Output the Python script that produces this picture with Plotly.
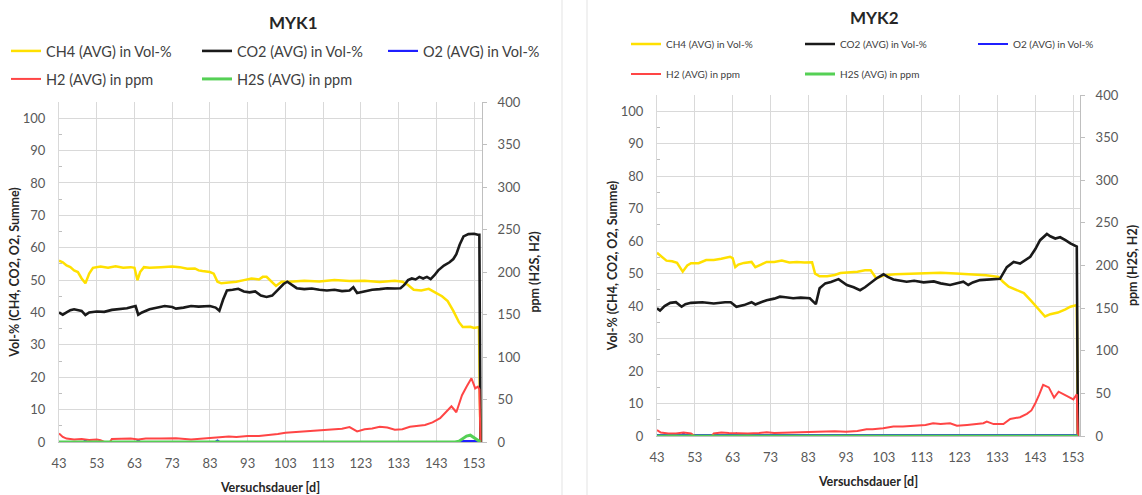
import plotly.graph_objects as go

# ---------------- data ----------------
x_ticks = [43, 53, 63, 73, 83, 93, 103, 113, 123, 133, 143, 153]

# MYK1
m1_ch4_d = [43, 44, 45, 46, 47, 48, 49, 50, 51, 52, 54, 56, 58, 60, 62, 63, 63.8, 64.5, 65.5, 67, 70, 73, 75, 77, 79, 80, 81, 83, 84, 85, 86, 88, 90, 92, 94, 96, 97, 98, 99.5, 100.5, 102, 104, 108, 112, 116, 120, 124, 128, 132, 134, 135.5, 137, 139, 141, 143, 144.5, 146, 147.5, 149, 150, 152, 153, 154.3, 154.7]
m1_ch4 = [56, 55.5, 54.5, 54, 53, 52.5, 50.5, 49, 52, 53.8, 54.2, 53.8, 54.3, 53.8, 54, 53.8, 50, 52.5, 54, 53.8, 54, 54.2, 54, 53.5, 53.6, 53, 52.8, 52.5, 52, 49.5, 49, 49.2, 49.5, 50, 50.5, 50.2, 51, 51, 49.5, 48.2, 49.5, 49.5, 49.8, 49.6, 50, 49.7, 49.8, 49.4, 49.8, 49.5, 48.5, 47, 46.8, 47.3, 46, 45, 43.5, 40.5, 37, 35.5, 35.6, 35.2, 35.5, 0]

m1_co2_d = [43, 44, 45, 46, 47, 48, 49, 50, 51, 53, 55, 57, 59, 61, 62.5, 63.3, 64, 65, 67, 69, 71, 73, 74, 76, 78, 80, 83, 84.5, 85.5, 86.5, 87.5, 89, 90.5, 92, 93.5, 95, 96.5, 98, 99.5, 101, 102.5, 103.5, 105, 106, 108, 110, 112, 114, 116, 118, 120, 121, 122, 124, 126, 128, 130, 132, 133.5, 134.5, 135.5, 136.5, 137.5, 138.5, 139.5, 140.5, 141.5, 142.5, 143.5, 145, 146.5, 147.5, 148.3, 149.2, 150.2, 151.5, 153, 154, 154.4, 154.7]
m1_co2 = [40, 39.3, 40, 40.7, 41, 40.8, 40.5, 39.2, 40, 40.3, 40.2, 40.8, 41, 41.3, 41.8, 42, 39.3, 40, 41, 41.5, 42, 41.7, 41.2, 41.5, 42, 41.8, 42, 41.5, 40.5, 44, 46.8, 47, 47.3, 46.5, 46.2, 46.5, 45.2, 44.8, 45.2, 47, 48.8, 49.5, 48.3, 47.5, 47.2, 47.4, 47, 46.8, 47, 46.6, 46.8, 47.8, 46, 46.5, 47, 47.2, 47.5, 47.4, 47.5, 48.5, 50, 50.5, 50.2, 51, 50.5, 51, 50.3, 51.5, 53, 54.5, 55.5, 56.5, 58, 61, 63.5, 64.2, 64.3, 64, 64, 0]

m1_o2_d = [43, 49.5, 50, 50.5, 63.5, 64, 64.5, 84.5, 85, 85.5, 149, 150, 153, 154, 154.7]
m1_o2 = [0, 0, 0.5, 0, 0, 0.5, 0, 0, 0.4, 0, 0, 0.3, 0.3, 0.3, 0]

m1_h2_d = [43, 44, 45, 47, 49, 51, 53, 54, 55, 56.5, 57, 59, 62, 64, 66, 70, 74, 78, 81, 84, 86, 88, 90, 93, 96, 99, 101, 103, 106, 109, 111, 113, 116, 118, 120, 122, 124, 126, 128, 130, 132, 134, 136, 138, 140, 142, 144, 145.5, 147, 148.3, 149.8, 151, 152.3, 153.3, 154, 154.4, 154.7]
m1_h2 = [10, 6, 4, 3, 3.5, 2.5, 3, 2, 0, 0, 3.5, 4, 4, 3, 4, 4, 4.5, 3, 4, 5, 5, 6.5, 6, 7, 7, 8, 9.5, 11, 12, 13, 14, 14, 15, 15.5, 17.5, 12.5, 15, 16, 18, 17, 14.5, 15, 18, 19, 20, 23, 28, 35, 42, 35, 55, 65, 75, 63, 65, 62, 0]

m1_h2s_d = [43, 148, 149, 150, 151, 152, 153, 154, 154.7]
m1_h2s = [0, 0, 1, 4, 7, 8, 5, 2, 0]

# MYK2
m2_ch4_d = [43, 44, 45.5, 47, 48.3, 49.8, 51, 52, 54, 56, 58, 60, 62.3, 63, 63.7, 64.5, 66, 68, 69, 70.5, 72, 74, 76, 78, 80, 82, 84, 84.8, 86, 88, 90, 91.5, 94, 96, 98, 99.5, 101, 103, 106, 110, 114, 118, 122, 126, 130, 133.3, 134.5, 136, 138, 140, 142, 144, 145.6, 147, 149, 151, 152.3, 154, 154.3]
m2_ch4 = [56.4, 55.5, 54, 53.8, 53.3, 50.6, 52.5, 53.2, 53.2, 54.2, 54.2, 54.6, 55.2, 54.8, 52, 52.8, 53.3, 53.6, 52, 52.8, 53.6, 53.6, 54, 53.4, 53.6, 53.4, 53.5, 50, 49.2, 49.2, 49.6, 50.2, 50.3, 50.6, 51, 51, 48.5, 49.5, 49.8, 50, 50.3, 50.3, 50, 49.8, 49.5, 49, 47.5, 46, 45, 44, 41.5, 39, 36.8, 37.5, 38, 39, 39.8, 40.3, 0]

m2_co2_d = [43, 43.8, 45, 46.5, 48, 49.5, 50.5, 52, 55, 58, 61, 62.5, 64, 66, 68, 69, 70.5, 72, 74, 75.5, 77, 79, 81, 83.4, 85, 86, 87.5, 89, 91, 92, 93.2, 95, 96.7, 98, 99.3, 101, 102.9, 104, 105.5, 107, 109, 111, 113.5, 116.2, 118, 120.5, 122, 124, 125.3, 126.5, 128.4, 131, 133.7, 135.5, 137.3, 139, 140.5, 141.7, 143, 144.3, 146.1, 147, 148.3, 149.6, 151, 152.3, 154, 154.3]
m2_co2 = [39.3, 38.6, 40, 41, 41.2, 39.8, 40.6, 41, 41.2, 40.8, 41.2, 41.2, 39.8, 40.3, 41.2, 40.5, 41.2, 41.8, 42.3, 42.9, 42.7, 42.4, 42.6, 42.4, 40.6, 45.5, 47, 47.4, 48.3, 47.5, 46.5, 45.8, 44.9, 45.8, 47, 48.5, 49.8, 49, 48.2, 47.8, 47.5, 47.8, 47.3, 47.6, 47, 46.5, 47, 47.5, 46.5, 47.3, 48, 48.2, 48.4, 52, 53.6, 53.1, 54.2, 55.2, 57.5, 60.3, 62.2, 61.5, 60.8, 61.2, 60.3, 59.3, 58.3, 0]

m2_o2_d = [43, 49.5, 50, 50.5, 63.5, 64, 64.5, 154, 154.3]
m2_o2 = [0.25, 0.25, 0.7, 0.25, 0.25, 0.7, 0.25, 0.25, 0]

m2_h2_d = [43, 44, 46, 48, 50, 52, 53, 57.5, 58, 60, 62, 64, 67, 70, 72, 74, 78, 82, 85, 88, 90, 93, 96, 98.4, 100, 102.8, 105.5, 108, 111.6, 114, 116, 118, 120.5, 122.3, 125, 127, 129.3, 130.2, 132, 134.6, 136.4, 139, 140.8, 142, 143, 144, 145.1, 146.6, 148, 149.2, 150.5, 151.4, 153.1, 154, 154.3]
m2_h2 = [7, 4, 3, 3, 4, 3, 0, 0, 3, 4, 3.5, 3, 3, 3.5, 4.5, 3.5, 4, 4.5, 5, 6, 5.5, 5, 6, 8, 8, 9, 11, 11, 12, 13, 15, 14, 15, 12, 13, 14, 15, 17, 14, 14, 20, 22, 26, 30, 38, 48, 60, 57, 45, 52, 49, 47, 43, 49, 0]

m2_h2s_d = [43, 154.3]
m2_h2s = [0, 0]

names = ["CH4 (AVG) in Vol-%", "CO2 (AVG) in Vol-%", "O2 (AVG) in Vol-%",
         "H2 (AVG) in ppm", "H2S (AVG) in ppm"]
colors = ["#FFE000", "#1A1A1A", "#1F1FFF", "#FF4545", "#55D055"]
widths = [2.5, 2.6, 2.2, 2.0, 3.0]

FONT = "Lato, 'Open Sans', sans-serif"

fig = go.Figure()

def add_chart(series, xa, ya_left, ya_right, legs):
    for i, (d, v) in enumerate(series):
        fig.add_trace(go.Scatter(
            x=d, y=v, mode="lines", name=names[i],
            line=dict(color=colors[i], width=widths[i]),
            xaxis=xa, yaxis=(ya_left if i < 3 else ya_right),
            legend=legs[i], hoverinfo="skip",
        ))

add_chart([(m1_ch4_d, m1_ch4), (m1_co2_d, m1_co2), (m1_o2_d, m1_o2),
           (m1_h2_d, m1_h2), (m1_h2s_d, m1_h2s)], "x", "y", "y2",
          ["legend", "legend", "legend2", "legend3", "legend3"])
add_chart([(m2_ch4_d, m2_ch4), (m2_co2_d, m2_co2), (m2_o2_d, m2_o2),
           (m2_h2_d, m2_h2), (m2_h2s_d, m2_h2s)], "x2", "y3", "y4",
          ["legend4", "legend4", "legend5", "legend6", "legend6"])

W, H = 1142, 495
def px(xp): return xp / W
def py(yp): return 1 - yp / H

grid = "#D9D9D9"
axline = "#BFBFBF"
tickfont = dict(family=FONT, size=13, color="#595959")
titlefont = dict(family=FONT, size=12.5, color="#262626", weight="bold")

def xaxis(dom, rng, anchor):
    return dict(domain=dom, range=rng, anchor=anchor, tickvals=x_ticks,
                showgrid=True, gridcolor=grid, gridwidth=1, zeroline=False,
                showline=True, linecolor=axline, ticks="", tickfont=tickfont,
                ticklabelstandoff=9,
                title=dict(text="Versuchsdauer [d]", font=titlefont, standoff=13))

def yleft(dom, anchor):
    return dict(domain=dom, range=[0, 105], anchor=anchor,
                tickvals=list(range(0, 101, 10)), showgrid=True, gridcolor=grid,
                zeroline=False, showline=True, linecolor=grid, ticks="",
                tickfont=tickfont, ticklabelstandoff=10,
                minor=dict(tickvals=list(range(5, 101, 10)), ticks="inside",
                           ticklen=3, tickcolor=axline, showgrid=False),
                title=dict(text="Vol-% (CH4, CO2, O2, Summe)", font=titlefont, standoff=0))

def yright(overl, anchor):
    return dict(overlaying=overl, side="right", anchor=anchor, range=[0, 400],
                tickvals=list(range(0, 401, 50)), showgrid=False, zeroline=False,
                showline=True, linecolor=axline, ticks="outside", ticklen=4,
                tickcolor=axline, tickfont=tickfont, ticklabelstandoff=8,
                title=dict(text="ppm (H2S, H2)", font=titlefont, standoff=10))

leg_common = dict(orientation="h", xanchor="left", yanchor="middle",
                  bgcolor="rgba(0,0,0,0)", borderwidth=0, itemwidth=30,
                  entrywidthmode="pixels", itemclick=False, itemdoubleclick=False)
f1 = dict(family=FONT, size=14.5, color="#404040")
f2 = dict(family=FONT, size=10, color="#404040")

fig.update_layout(
    width=W, height=H,
    margin=dict(l=0, r=0, t=0, b=0, autoexpand=False),
    paper_bgcolor="white", plot_bgcolor="white",
    font=dict(family=FONT, color="#404040"),
    showlegend=True,
    xaxis=xaxis([px(59), px(482)], [43, 155.1], "y"),
    yaxis=yleft([1 - 442 / H, 1 - 102 / H], "x"),
    yaxis2=yright("y", "x"),
    xaxis2=xaxis([px(657), px(1080)], [43, 154.85], "y3"),
    yaxis3=yleft([1 - 436 / H, 1 - 95 / H], "x2"),
    yaxis4=yright("y3", "x2"),
    legend=dict(**leg_common, x=px(6), y=py(51), entrywidth=146, font=f1),
    legend2=dict(**leg_common, x=px(383), y=py(51), entrywidth=148, font=f1),
    legend3=dict(**leg_common, x=px(6), y=py(79), entrywidth=146, font=f1),
    legend4=dict(**leg_common, x=px(626), y=py(44), entrywidth=129, font=f2),
    legend5=dict(**leg_common, x=px(973), y=py(44), entrywidth=100, font=f2),
    legend6=dict(**leg_common, x=px(626), y=py(74), entrywidth=129, font=f2),
    annotations=[
        dict(text="<b>MYK1</b>", x=px(293), y=py(23), xref="paper", yref="paper",
             xanchor="center", yanchor="middle", showarrow=False,
             font=dict(family=FONT, size=17, color="#262626")),
        dict(text="<b>MYK2</b>", x=px(874), y=py(17), xref="paper", yref="paper",
             xanchor="center", yanchor="middle", showarrow=False,
             font=dict(family=FONT, size=17, color="#262626")),
    ],
    shapes=[
        dict(type="line", xref="paper", yref="paper", x0=px(562), x1=px(562),
             y0=0, y1=1, line=dict(color="#E3E3E3", width=1)),
        dict(type="line", xref="paper", yref="paper", x0=px(587), x1=px(587),
             y0=0, y1=1, line=dict(color="#E3E3E3", width=1)),
    ],
)

fig.write_html("out.html", config={"displayModeBar": False},
               post_script="document.body.style.margin='0';")
